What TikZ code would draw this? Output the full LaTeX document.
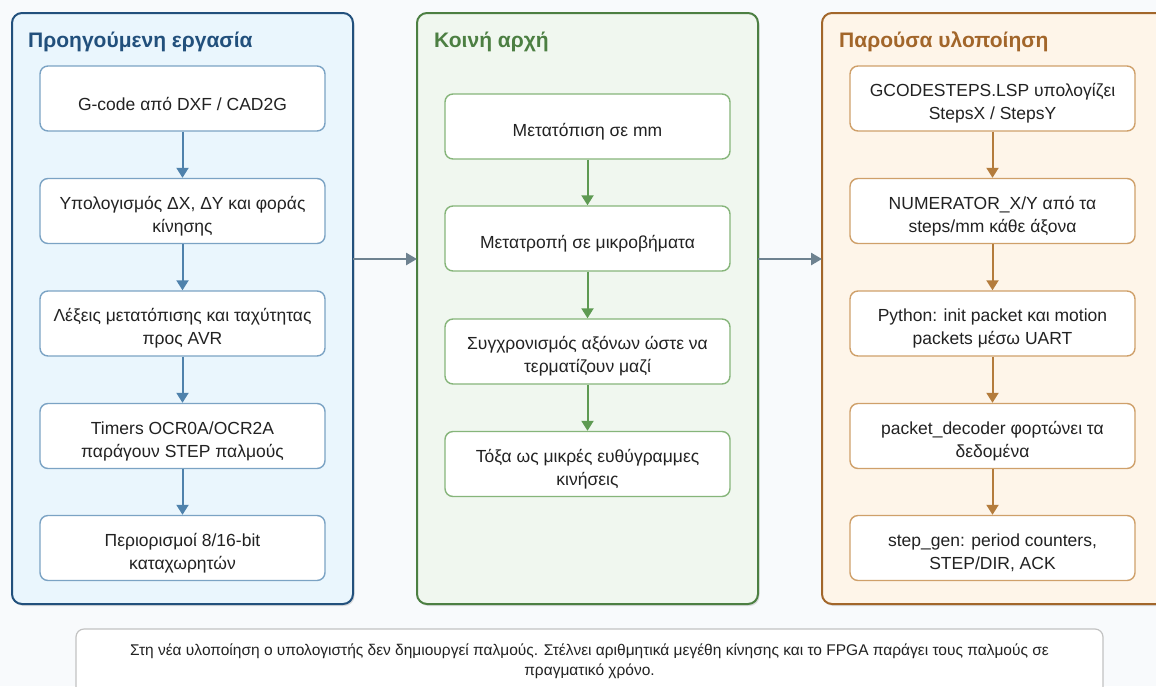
\documentclass[tikz,border=0pt]{standalone}
\usepackage{fontspec}
\setmainfont{Liberation Sans}
\usetikzlibrary{arrows.meta}

\definecolor{bgc}{HTML}{F8FAFC}
\definecolor{bluefill}{HTML}{EAF6FD}
\definecolor{blueline}{HTML}{22507C}
\definecolor{bluebox}{HTML}{7BA3C4}
\definecolor{bluearrow}{HTML}{4F82AC}
\definecolor{greenfill}{HTML}{F0F7EF}
\definecolor{greenline}{HTML}{4C7F42}
\definecolor{greenbox}{HTML}{86B57A}
\definecolor{greenarrow}{HTML}{5E9A52}
\definecolor{brownfill}{HTML}{FEF5E9}
\definecolor{brownline}{HTML}{A2662A}
\definecolor{brownbox}{HTML}{CFA06A}
\definecolor{brownarrow}{HTML}{B47C3C}
\definecolor{txt}{HTML}{222222}
\definecolor{linkc}{HTML}{6E8290}
\definecolor{notec}{HTML}{C2C2C2}

\tikzset{
  panel/.style={rounded corners=10pt, line width=2pt},
  stepbox/.style={rectangle, rounded corners=8pt, fill=white, line width=1.4pt,
    minimum width=285pt, minimum height=65pt, inner sep=0pt},
  boxtext/.style={align=center, text=txt, font=\fontsize{17.5}{23}\selectfont, inner sep=0pt},
  title/.style={anchor=base west, font=\fontsize{21}{24}\selectfont\bfseries, inner sep=0pt},
  flow/.style={line width=2pt, -{Triangle[length=10pt,width=12pt]}},
  link/.style={line width=2.6pt, linkc, -{Triangle[length=11pt,width=12pt]}},
}

% a step box: border colour, name, centre, text
\newcommand\stepnode[4]{%
  \node[stepbox, draw=#1] (#2) at (#3) {};
  \node[boxtext] (#2t) at ([yshift=-5pt]#2.center) {#4};}

\begin{document}
\begin{tikzpicture}[x=1pt, y=-1pt]
\useasboundingbox (0,0) rectangle (1156,686);
\clip (0,0) rectangle (1156,686);
\fill[bgc] (0,0) rectangle (1156,686);

% soft drop shadows under the three panels
\foreach \xa/\xb in {12/353, 417/758, 822/1175}
  \fill[black, opacity=0.12, rounded corners=10pt] (\xa+1.5,15.5) rectangle (\xb+1.5,606);

% panels
\draw[panel, blueline, fill=bluefill] (12,13) rectangle (353,604);
\draw[panel, greenline, fill=greenfill] (417,13) rectangle (758,604);
\draw[panel, brownline, fill=brownfill] (822,13) rectangle (1175,604);

\node[title, text=blueline] (t1) at (28,47) {Προηγούμενη εργασία};
\node[title, text=greenline] (t2) at (434,47) {Κοινή αρχή};
\node[title, text=brownline] (t3) at (839,47) {Παρούσα υλοποίηση};

% previous work column
\stepnode{bluebox}{a1}{182.5,98.5}{G-code από DXF / CAD2G}
\stepnode{bluebox}{a2}{182.5,211}{Υπολογισμός ΔX, ΔY και φοράς\\κίνησης}
\stepnode{bluebox}{a3}{182.5,323.5}{Λέξεις μετατόπισης και ταχύτητας\\προς AVR}
\stepnode{bluebox}{a4}{182.5,436}{Timers OCR0A/OCR2A\\παράγουν STEP παλμούς}
\stepnode{bluebox}{a5}{182.5,548}{Περιορισμοί 8/16-bit\\καταχωρητών}
\foreach \p/\q in {a1/a2, a2/a3, a3/a4, a4/a5}
  \draw[flow, bluearrow] (\p.south) -- (\q.north);

% common principle column
\stepnode{greenbox}{b1}{587.5,126.5}{Μετατόπιση σε mm}
\stepnode{greenbox}{b2}{587.5,238.5}{Μετατροπή σε μικροβήματα}
\stepnode{greenbox}{b3}{587.5,351.5}{Συγχρονισμός αξόνων ώστε να\\τερματίζουν μαζί}
\stepnode{greenbox}{b4}{587.5,464}{Τόξα ως μικρές ευθύγραμμες\\κινήσεις}
\foreach \p/\q in {b1/b2, b2/b3, b3/b4}
  \draw[flow, greenarrow] (\p.south) -- (\q.north);

% present implementation column
\stepnode{brownbox}{c1}{992.5,98.5}{GCODESTEPS.LSP υπολογίζει\\StepsX / StepsY}
\stepnode{brownbox}{c2}{992.5,211}{NUMERATOR\_X/Y από τα\\steps/mm κάθε άξονα}
\stepnode{brownbox}{c3}{992.5,323.5}{Python: init packet και motion\\packets μέσω UART}
\stepnode{brownbox}{c4}{992.5,436}{packet\_decoder φορτώνει τα\\δεδομένα}
\stepnode{brownbox}{c5}{992.5,548}{step\_gen: period counters,\\STEP/DIR, ACK}
\foreach \p/\q in {c1/c2, c2/c3, c3/c4, c4/c5}
  \draw[flow, brownarrow] (\p.south) -- (\q.north);

% links between panels
\coordinate (p1e) at (353,259);
\coordinate (p2w) at (417,259);
\coordinate (p2e) at (758,259);
\coordinate (p3w) at (822,259);
\draw[link] (p1e) -- (p2w);
\draw[link] (p2e) -- (p3w);

% note
\draw[notec, line width=1.2pt, fill=white, rounded corners=8pt] (76,629) rectangle (1103,700);
\node[text=txt, align=center, font=\fontsize{15.5}{20}\selectfont, inner sep=0pt] (note) at (589.5,661)
  {Στη νέα υλοποίηση ο υπολογιστής δεν δημιουργεί παλμούς. Στέλνει αριθμητικά μεγέθη κίνησης και το FPGA παράγει τους παλμούς σε\\πραγματικό χρόνο.};
\end{tikzpicture}
\end{document}
